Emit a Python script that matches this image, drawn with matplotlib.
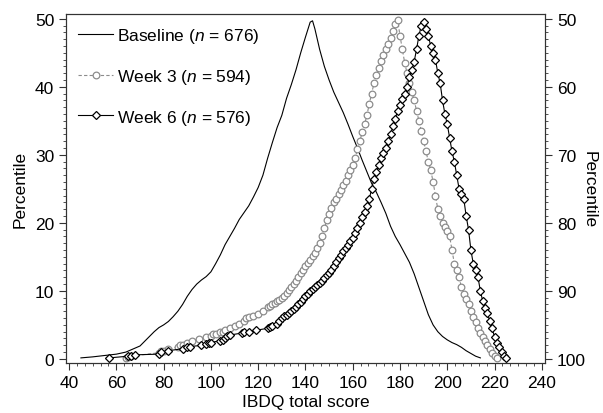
import numpy as np
import matplotlib
matplotlib.use("Agg")
import matplotlib.pyplot as plt
from matplotlib.ticker import MultipleLocator, AutoMinorLocator

plt.rcParams['font.family'] = ['Liberation Sans', 'DejaVu Sans']
plt.rcParams['mathtext.fontset'] = 'custom'
plt.rcParams['mathtext.it'] = 'Liberation Sans:italic'
plt.rcParams['mathtext.rm'] = 'Liberation Sans'

# Baseline (cumulative percentile vs IBDQ score)
base_score = [45, 50, 55, 60, 64, 66, 68, 70, 72, 74, 76, 78, 80, 82, 84, 86, 88, 90,
              92, 94, 96, 98, 100, 102, 104, 106, 108, 110, 112, 114, 116, 118, 120,
              122, 124, 126, 128, 130, 132, 134, 136, 138, 140, 142, 143, 144, 146,
              148, 150, 152, 154, 156, 158, 160, 162, 164, 166, 168, 170, 172, 174,
              176, 178, 180, 182, 184, 186, 188, 190, 192, 194, 196, 198, 200, 202,
              204, 206, 208, 210, 212, 214]
base_pct = [0.15, 0.3, 0.5, 0.7, 1.0, 1.3, 1.6, 1.9, 2.6, 3.3, 4.0, 4.6, 5.0, 5.5, 6.2,
            7.0, 8.0, 9.2, 10.2, 11.0, 11.6, 12.1, 12.8, 14.0, 15.3, 16.8, 18.0, 19.2,
            20.5, 21.5, 22.5, 23.8, 25.2, 27.0, 29.5, 31.8, 34.0, 35.8, 38.3, 40.3,
            42.5, 45.0, 47.3, 49.5, 50.3, 51.5, 54.5, 57.0, 59.0, 60.8, 62.3, 63.8,
            65.5, 67.3, 69.0, 70.8, 72.5, 74.2, 75.5, 77.0, 78.6, 80.5, 82.0, 83.2,
            84.5, 85.8, 87.5, 89.5, 91.5, 93.5, 95.0, 96.0, 96.7, 97.2, 97.6, 97.9,
            98.3, 98.8, 99.2, 99.6, 99.85]

# Week 3
w3_score = [64, 65, 66, 78, 79, 80, 82, 86, 87, 88, 90, 92, 95, 98, 100, 101, 102, 104,
            105, 106, 108, 110, 112, 114, 115, 116, 118, 120, 122, 124, 125, 126, 127,
            128, 129, 130, 131, 132, 133, 134, 135, 136, 137, 138, 139, 140, 141, 142,
            143, 144, 145, 146, 147, 148, 149, 150, 151, 152, 153, 154, 155, 156, 157,
            158, 159, 160, 161, 162, 163, 164, 165, 166, 167, 168, 169, 170, 171, 172,
            173, 174, 175, 176, 177, 178, 179, 180, 181, 182, 183, 184, 185, 186, 187,
            188, 189, 190, 191, 192, 193, 194, 195, 196, 197, 198, 199, 200, 201, 202,
            203, 204, 205, 206, 207, 208, 209, 210, 211, 212, 213, 214, 215, 216, 217,
            218, 219, 220, 221]
w3_pct = [0.2, 0.3, 0.4, 0.9, 1.1, 1.2, 1.4, 1.8, 2.0, 2.1, 2.4, 2.7, 2.9, 3.2, 3.4, 3.6,
          3.7, 3.9, 4.0, 4.2, 4.5, 4.8, 5.1, 5.6, 6.0, 6.2, 6.3, 6.6, 7.0, 7.6, 7.8, 8.0,
          8.2, 8.5, 8.7, 9.0, 9.3, 9.7, 10.1, 10.6, 11.0, 11.5, 12.0, 12.6, 13.1, 13.6,
          14.1, 14.6, 15.1, 15.6, 16.3, 17.0, 18.0, 19.2, 20.4, 21.3, 22.2, 23.0, 23.5,
          24.3, 24.9, 25.6, 26.2, 27.0, 27.8, 28.5, 29.5, 30.8, 32.0, 33.3, 34.5, 35.8,
          37.5, 39.0, 40.5, 41.8, 42.8, 43.8, 44.6, 45.5, 46.3, 47.2, 48.2, 49.2, 50.2,
          52.5, 54.5, 56.5, 58.0, 59.5, 60.8, 62.0, 63.5, 65.0, 66.5, 68.0, 69.5, 71.0,
          72.2, 74.0, 76.0, 78.0, 79.0, 80.0, 80.6, 81.2, 82.0, 84.0, 86.0, 87.0, 88.0,
          89.5, 90.5, 91.2, 92.0, 93.0, 93.8, 94.6, 95.4, 96.2, 96.8, 97.4, 98.0, 98.6,
          99.1, 99.5, 99.8]

# Week 6
w6_score = [57, 65, 66, 68, 78, 79, 82, 88, 90, 91, 96, 98, 99, 100, 104, 105, 106, 107,
            108, 113, 114, 116, 119, 124, 125, 126, 128, 129, 130, 131, 132, 133, 134,
            135, 136, 137, 138, 139, 140, 141, 142, 143, 144, 145, 146, 147, 148, 149,
            150, 151, 152, 153, 154, 155, 156, 157, 158, 159, 160, 161, 162, 163, 164,
            165, 166, 167, 168, 169, 170, 171, 172, 173, 174, 175, 176, 177, 178, 179,
            180, 181, 182, 183, 184, 185, 186, 187, 188, 189, 190, 191, 192, 193, 194,
            195, 196, 197, 198, 199, 200, 201, 202, 203, 204, 205, 206, 207, 208, 209,
            210, 211, 212, 213, 214, 215, 216, 217, 218, 219, 220, 221, 222, 223, 224,
            225]
w6_pct = [0.15, 0.4, 0.5, 0.6, 0.7, 1.0, 1.2, 1.5, 1.7, 1.8, 2.0, 2.2, 2.3, 2.4, 2.7,
          2.8, 3.1, 3.3, 3.5, 3.8, 3.9, 3.9, 4.2, 4.5, 4.7, 4.9, 5.2, 5.6, 6.0, 6.3, 6.5,
          6.8, 7.1, 7.4, 7.7, 8.0, 8.4, 8.8, 9.2, 9.6, 10.0, 10.3, 10.6, 10.9, 11.2, 11.5,
          11.9, 12.3, 12.7, 13.1, 13.6, 14.2, 14.8, 15.3, 15.8, 16.3, 16.8, 17.3, 17.8,
          18.5, 19.2, 20.0, 20.8, 21.6, 22.5, 23.5, 25.0, 26.5, 27.5, 28.5, 29.5, 30.3,
          31.0, 32.0, 33.0, 34.2, 35.3, 36.5, 37.3, 38.2, 39.0, 40.0, 41.5, 42.5, 43.7,
          45.5, 47.5, 49.0, 50.5, 51.5, 52.5, 54.0, 55.0, 56.0, 58.0, 59.5, 62.0, 64.0,
          65.5, 67.5, 69.5, 71.0, 73.0, 75.0, 75.8, 76.5, 79.0, 81.0, 84.0, 86.0, 87.0,
          88.0, 90.0, 91.5, 92.5, 93.3, 94.5, 95.5, 96.8, 97.6, 98.2, 99.0, 99.6, 99.9]

labels = ["Baseline ($n$ = 676)", "Week 3 ($n$ = 594)", "Week 6 ($n$ = 576)"]


def fold(p):
    p = np.asarray(p, dtype=float)
    return np.where(p > 50, 100 - p, p)


fig = plt.figure(figsize=(6.03, 4.14), dpi=100)
ax = fig.add_axes([0.1095, 0.1208, 0.7945, 0.843])

ax.plot(base_score, fold(base_pct), color='black', lw=0.8,
        label=labels[0])
ax.plot(w3_score, fold(w3_pct), color='#8c8c8c', lw=0.8, ls=(0, (3, 2)),
        marker='o', ms=4.8, mfc='white', mec='#8c8c8c', mew=0.9, label=labels[1])
ax.plot(w6_score, fold(w6_pct), color='black', lw=0.8,
        marker='D', ms=4.0, mfc='white', mec='black', mew=0.9, label=labels[2])

ax.set_xlim(38.7, 241.4)
ax.set_ylim(-0.6, 50.7)
ax.xaxis.set_major_locator(MultipleLocator(20))
ax.xaxis.set_minor_locator(AutoMinorLocator(6))
ax.yaxis.set_major_locator(MultipleLocator(10))
ax.yaxis.set_minor_locator(MultipleLocator(1))
ax.tick_params(which='major', length=5, width=0.8, labelsize=12.5, color='#333333')
ax.tick_params(which='minor', length=2.5, width=0.6, color='#333333')
ax.set_xlabel("IBDQ total score", fontsize=12.5, labelpad=3)
ax.set_ylabel("Percentile", fontsize=12.5, labelpad=5)
for s in ax.spines.values():
    s.set_linewidth(0.8)
    s.set_color('#333333')

ax2 = ax.twinx()
ax2.set_ylim(100.6, 49.3)
ax2.yaxis.set_major_locator(MultipleLocator(10))
ax2.yaxis.set_minor_locator(MultipleLocator(1))
ax2.tick_params(which='major', length=5, width=0.8, labelsize=12.5, color='#333333')
ax2.tick_params(which='minor', length=2.5, width=0.6, color='#333333')
ax2.set_ylabel("Percentile", fontsize=12.5, rotation=270, labelpad=8)
for s in ax2.spines.values():
    s.set_linewidth(0.8)
    s.set_color('#333333')

ax.legend(loc='upper left', frameon=False, fontsize=12.5, handlelength=2.0,
          handletextpad=0.25, labelspacing=1.25, borderaxespad=0.3,
          bbox_to_anchor=(0.0, 1.0))

fig.savefig("out.png", dpi=100)
